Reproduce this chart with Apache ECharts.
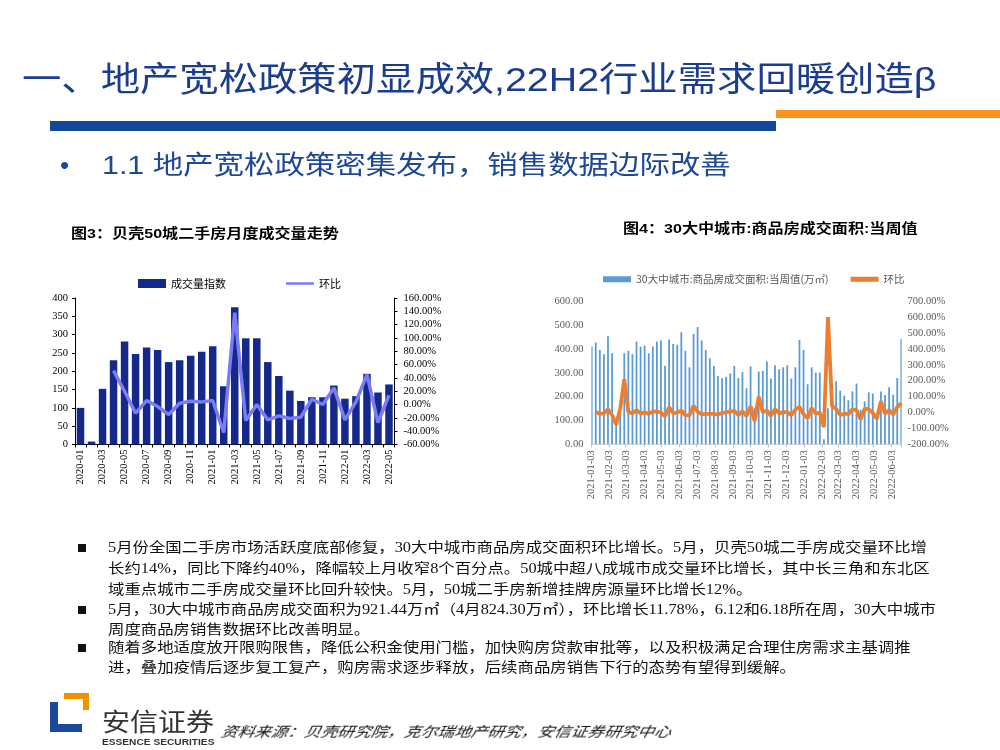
<!DOCTYPE html>
<html><head><meta charset="utf-8">
<script src="https://cdn.jsdelivr.net/npm/echarts@6/dist/echarts.min.js"></script>
<style>
body{margin:0;width:1000px;height:750px;position:relative;background:#fff;overflow:hidden;font-family:'Liberation Sans','Noto Sans CJK SC',sans-serif;}
.a{position:absolute;white-space:nowrap;transform-origin:0 50%;}
#chart{position:absolute;left:0;top:0;width:1000px;height:750px;}
.body{font-family:'Liberation Serif','Noto Sans CJK SC',serif;font-size:14px;line-height:20px;height:20px;color:#111;transform:scaleX(1.17);}
.sq{position:absolute;width:8px;height:8px;background:#111;}
</style></head><body>
<div id="chart"></div>

<div class="a" style="left:22px;top:58px;font-size:34px;line-height:42px;color:#1b3d8e;transform:scaleX(1.157);">一、地产宽松政策初显成效,22H2行业需求回暖创造β</div>
<div style="position:absolute;left:776px;top:110px;width:224px;height:8px;background:#f7941d;"></div>
<div style="position:absolute;left:50px;top:121px;width:726px;height:10px;background:#12479a;"></div>
<div class="a" style="left:60px;top:148px;font-size:26px;line-height:34px;color:#1d4797;">•</div>
<div class="a" style="left:102px;top:148px;font-size:26px;line-height:34px;color:#1d4797;transform:scaleX(1.17);">1.1 地产宽松政策密集发布，销售数据边际改善</div>

<div class="a" style="left:71px;top:224px;font-size:13.5px;line-height:20px;font-weight:bold;color:#000;transform:scaleX(1.19);">图3：贝壳50城二手房月度成交量走势</div>
<div class="a" style="left:623px;top:219px;font-size:13.5px;line-height:20px;font-weight:bold;color:#000;transform:scaleX(1.19);">图4：30大中城市:商品房成交面积:当周值</div>

<div class="sq" style="left:78px;top:544px;"></div>
<div class="a body" style="left:108px;top:538px;">5月份全国二手房市场活跃度底部修复，30大中城市商品房成交面积环比增长。5月，贝壳50城二手房成交量环比增</div>
<div class="a body" style="left:108px;top:559px;">长约14%，同比下降约40%，降幅较上月收窄8个百分点。50城中超八成城市成交量环比增长，其中长三角和东北区</div>
<div class="a body" style="left:108px;top:580px;">域重点城市二手房成交量环比回升较快。5月，50城二手房新增挂牌房源量环比增长12%。</div>
<div class="sq" style="left:78px;top:606px;"></div>
<div class="a body" style="left:108px;top:600px;">5月，30大中城市商品房成交面积为921.44万㎡（4月824.30万㎡），环比增长11.78%，6.12和6.18所在周，30大中城市</div>
<div class="a body" style="left:108px;top:620px;">周度商品房销售数据环比改善明显。</div>
<div class="sq" style="left:78px;top:644px;"></div>
<div class="a body" style="left:108px;top:638px;">随着多地适度放开限购限售，降低公积金使用门槛，加快购房贷款审批等，以及积极满足合理住房需求主基调推</div>
<div class="a body" style="left:108px;top:658px;">进，叠加疫情后逐步复工复产，购房需求逐步释放，后续商品房销售下行的态势有望得到缓解。</div>

<div style="position:absolute;left:64px;top:693px;width:25px;height:6px;background:#f39200;"></div>
<div style="position:absolute;left:83px;top:693px;width:6px;height:17px;background:#f39200;"></div>
<div style="position:absolute;left:50px;top:702px;width:8px;height:30px;background:#1b4a9c;"></div>
<div style="position:absolute;left:50px;top:724px;width:32px;height:8px;background:#1b4a9c;"></div>
<div class="a" style="left:102px;top:706px;font-size:25px;line-height:32px;color:#333;transform:scaleX(1.12);">安信证券</div>
<div class="a" style="left:102px;top:736px;font-size:9.5px;line-height:12px;color:#333;font-weight:bold;transform:scaleX(1.07);">ESSENCE SECURITIES</div>
<div class="a" style="left:221px;top:723px;font-size:14px;line-height:20px;font-style:italic;color:#111;font-family:'Liberation Serif','Noto Sans CJK SC',serif;transform:scaleX(1.19) skewX(-10deg);">资料来源：贝壳研究院，克尔瑞地产研究，安信证券研究中心</div>

<script>
// ---- Figure 3: 贝壳50城二手房月度成交量 ----
const months = ['2020-01','2020-02','2020-03','2020-04','2020-05','2020-06','2020-07','2020-08','2020-09','2020-10','2020-11','2020-12',
  '2021-01','2021-02','2021-03','2021-04','2021-05','2021-06','2021-07','2021-08','2021-09','2021-10','2021-11','2021-12',
  '2022-01','2022-02','2022-03','2022-04','2022-05'];
const volIndex = [100,8,152,230,281,247,265,258,225,230,242,253,268,159,375,290,290,225,187,147,119,129,129,161,125,132,193,142,164];
const volMoM = [null,null,null,51,20,-13,6,-3,-15,2,5,4,6,-42,138,-24,0,-23,-17,-21,-19,8,0,25,-23,4,45,-27,14];

// ---- Figure 4: 30大中城市商品房成交面积 当周值 ----
const weekStart = '2021-01-03';
const weekEnd = '2022-06-19';
const areaVals = [410,427,396,378,453,382,100,123,382,392,
  378,431,410,414,382,410,431,436,330,440,
  421,417,470,392,323,463,492,436,396,361,
  329,287,277,283,297,329,278,303,235,327,
  152,305,308,348,276,332,315,323,332,276,
  323,438,396,252,323,301,301,21.5,151,215,
  264,225,204,185,222,255,145,180,218,213,
  130,222,207,239,208,278,442];
const areaMoM = [null,4,-7,-5,20,-16,-75,23,210,3,
  -4,14,-5,1,-8,7,5,1,-24,33,
  -4,-1,13,-17,-18,43,6,-11,-9,-9,
  -9,-13,-3,2,5,11,-16,9,-22,39,
  -54,100,1,13,-21,20,-5,3,3,-17,
  17,36,-10,-36,28,-7,0,-93,600,42,
  23,-15,-9,-9,20,15,-43,24,21,-2,
  -39,71,-7,15,-13,34,59];
const areaTicks = ['2021-01-03','2021-02-03','2021-03-03','2021-04-03','2021-05-03','2021-06-03','2021-07-03','2021-08-03','2021-09-03',
  '2021-10-03','2021-11-03','2021-12-03','2022-01-03','2022-02-03','2022-03-03','2022-04-03','2022-05-03','2022-06-03'];

const DAY = 86400000;
const t0 = Date.parse(weekStart + 'T00:00:00Z'), t1 = Date.parse(weekEnd + 'T00:00:00Z');
const days = [];
for (let t = t0; t <= t1; t += DAY) days.push(new Date(t).toISOString().slice(0, 10));
const weekIdx = areaVals.map((v, i) => i * 7);
const tickSet = new Set(areaTicks);
const tickFn = (idx, val) => tickSet.has(val);

// legend icon for line series: a thin bar centred in a transparent-height box
const lineIconL = 'path://M0,0L0.01,0L0,0.01Z M0,3.2H28V5.8H0Z M0,9L0.01,9L0,8.99Z';
const lineIconR = 'path://M0,0L0.01,0L0,0.01Z M0,0.6H28V5.4H0Z M0,6L0.01,6L0,5.99Z';

const serif = "'Liberation Serif','Noto Sans CJK SC',serif";
const cjk = "'Noto Sans CJK SC','Liberation Serif',sans-serif";
const chart = echarts.init(document.getElementById('chart'), null, {renderer: 'canvas'});
chart.setOption({
  animation: false,
  backgroundColor: 'transparent',
  legend: [
    {left: 133, top: 273, itemWidth: 28, itemHeight: 9, itemGap: 60,
     data: [{name: '成交量指数', icon: 'rect'}, {name: 'momL', icon: lineIconL}],
     formatter: n => n.startsWith('mom') ? '环比' : n,
     textStyle: {fontSize: 11, color: '#000', fontFamily: cjk}},
    {left: 598, top: 269, itemWidth: 28, itemHeight: 6, itemGap: 22,
     data: [{name: '30大中城市:商品房成交面积:当周值(万㎡)', icon: 'rect'}, {name: 'momR', icon: lineIconR}],
     formatter: n => n.startsWith('mom') ? '环比' : n,
     textStyle: {fontSize: 10.5, color: '#595959', fontFamily: cjk}}
  ],
  grid: [
    {left: 75, top: 298, width: 319.5, height: 146.5},
    {left: 591.4, top: 301.3, width: 310.2, height: 143}
  ],
  xAxis: [
    {type: 'category', gridIndex: 0, data: months,
     axisLine: {lineStyle: {color: '#000', width: 1}},
     axisTick: {show: true, interval: 0, length: 3, lineStyle: {color: '#000'}},
     axisLabel: {rotate: 90, interval: 1, fontSize: 10.5, color: '#000', fontFamily: serif, margin: 5}},
    {type: 'category', gridIndex: 1, data: days,
     axisLine: {lineStyle: {color: '#d9d9d9', width: 1}},
     axisTick: {show: true, interval: tickFn, length: 3, lineStyle: {color: '#bfbfbf'}},
     axisLabel: {rotate: 90, interval: tickFn, fontSize: 10.5, color: '#595959', fontFamily: serif, margin: 6, hideOverlap: false}}
  ],
  yAxis: [
    {type: 'value', gridIndex: 0, min: 0, max: 400, interval: 50, splitLine: {show: false},
     axisLine: {show: true, lineStyle: {color: '#000'}}, axisTick: {show: true, length: 3, lineStyle: {color: '#000'}},
     axisLabel: {fontSize: 10.5, color: '#000', fontFamily: serif, margin: 7}},
    {type: 'value', gridIndex: 0, position: 'right', min: -60, max: 160, interval: 20, splitLine: {show: false},
     axisLine: {show: true, lineStyle: {color: '#000'}}, axisTick: {show: true, length: 3, lineStyle: {color: '#000'}},
     axisLabel: {fontSize: 10.5, color: '#000', fontFamily: serif, margin: 9, formatter: v => v.toFixed(2) + '%'}},
    {type: 'value', gridIndex: 1, min: 0, max: 600, interval: 100, splitLine: {show: false},
     axisLine: {show: false}, axisTick: {show: false},
     axisLabel: {fontSize: 10.5, color: '#595959', fontFamily: serif, margin: 8, formatter: v => v.toFixed(2)}},
    {type: 'value', gridIndex: 1, position: 'right', min: -200, max: 700, interval: 100, splitLine: {show: false},
     axisLine: {show: false}, axisTick: {show: false},
     axisLabel: {fontSize: 10.5, color: '#595959', fontFamily: serif, margin: 6, formatter: v => v.toFixed(2) + '%'}}
  ],
  series: [
    {name: '成交量指数', type: 'bar', xAxisIndex: 0, yAxisIndex: 0, data: volIndex,
     barCategoryGap: '32%', itemStyle: {color: '#15298a'}},
    {name: 'momL', type: 'line', xAxisIndex: 0, yAxisIndex: 1, data: volMoM,
     symbol: 'none', showSymbol: false, lineStyle: {color: '#7b7cf5', width: 3.5}, itemStyle: {color: '#7b7cf5'}},
    {name: '30大中城市:商品房成交面积:当周值(万㎡)', type: 'bar', xAxisIndex: 1, yAxisIndex: 2,
     data: areaVals.map((v, i) => [weekIdx[i], v]), barWidth: 1.8, itemStyle: {color: '#5b9bd5'}},
    {name: 'momR', type: 'line', xAxisIndex: 1, yAxisIndex: 3,
     data: areaMoM.map((v, i) => [weekIdx[i], v]).filter(p => p[1] !== null),
     symbol: 'none', showSymbol: false, lineStyle: {color: '#ed7d31', width: 3.8}, itemStyle: {color: '#ed7d31'}}
  ]
});
</script>
</body></html>
